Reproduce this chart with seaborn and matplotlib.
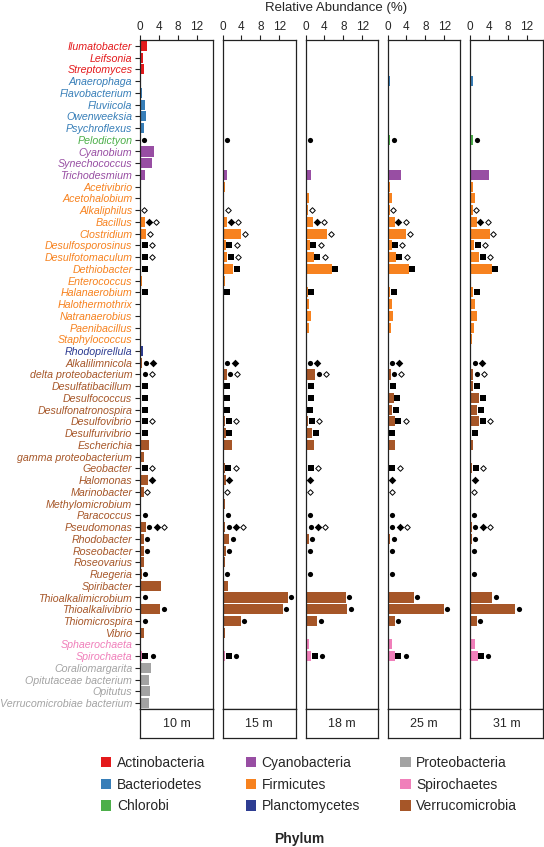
import numpy as np
import pandas as pd
import seaborn as sns
import matplotlib.pyplot as plt
from matplotlib.patches import Patch

sns.set_style('white')
plt.rcParams['font.family'] = ['Liberation Sans', 'DejaVu Sans']

# =====================================================================
# DATOS
# =====================================================================
genera = ['Ilumatobacter', 'Leifsonia', 'Streptomyces',
          'Anaerophaga', 'Flavobacterium', 'Fluviicola', 'Owenweeksia', 'Psychroflexus',
          'Pelodictyon',
          'Cyanobium', 'Synechococcus', 'Trichodesmium',
          'Acetivibrio', 'Acetohalobium', 'Alkaliphilus', 'Bacillus', 'Clostridium',
          'Desulfosporosinus', 'Desulfotomaculum', 'Dethiobacter', 'Enterococcus',
          'Halanaerobium', 'Halothermothrix', 'Natranaerobius', 'Paenibacillus',
          'Staphylococcus',
          'Rhodopirellula',
          'Alkalilimnicola', 'delta proteobacterium', 'Desulfatibacillum', 'Desulfococcus',
          'Desulfonatronospira', 'Desulfovibrio', 'Desulfurivibrio', 'Escherichia',
          'gamma proteobacterium', 'Geobacter', 'Halomonas', 'Marinobacter',
          'Methylomicrobium', 'Paracoccus', 'Pseudomonas', 'Rhodobacter', 'Roseobacter',
          'Roseovarius', 'Ruegeria', 'Spiribacter', 'Thioalkalimicrobium',
          'Thioalkalivibrio', 'Thiomicrospira', 'Vibrio',
          'Sphaerochaeta', 'Spirochaeta',
          'Coraliomargarita', 'Opitutaceae bacterium', 'Opitutus',
          'Verrucomicrobiae bacterium']

# grupo (como en la leyenda de la figura original)
phylum = (['Actinobacteria'] * 3 + ['Bacteriodetes'] * 5 + ['Chlorobi'] +
          ['Cyanobacteria'] * 3 + ['Firmicutes'] * 14 + ['Planctomycetes'] +
          ['Verrucomicrobia'] * 24 + ['Spirochaetes'] * 2 + ['Proteobacteria'] * 4)

legend_order = ['Actinobacteria', 'Bacteriodetes', 'Chlorobi',
                'Cyanobacteria', 'Firmicutes', 'Planctomycetes',
                'Proteobacteria', 'Spirochaetes', 'Verrucomicrobia']
phylum_colors = ['#e41a1c', '#377eb8', '#4daf4a',
                 '#984ea3', '#f7821f', '#2e3d92',
                 '#a3a3a3', '#f07fba', '#a65628']

depths = ['10 m', '15 m', '18 m', '25 m', '31 m']

d10 = [1.4, 0.55, 0.85, 0.05, 0.5, 1.1, 1.2, 0.8, 0.05, 3.0, 2.45, 1.05,
       0.05, 0.05, 0.05, 1.05, 1.35, 0.3, 0.3, 0.3, 0.5, 0.2, 0.05, 0.05, 0.1, 0.05,
       0.7,
       0.5, 0.3, 0.2, 0.2, 0.2, 0.3, 0.2, 1.9, 0.8, 0.2, 1.75, 0.75, 0.1, 0.2, 1.2,
       0.8, 0.75, 0.75, 0.4, 4.5, 0.3, 4.3, 0.3, 0.8,
       0.05, 0.4, 2.3, 1.95, 2.1, 1.9]
d15 = [0.2, 0.2, 0.2, 0.1, 0.1, 0.3, 0.2, 0.1, 0.1, 0.1, 0.2, 1.0,
       0.55, 0.4, 0.4, 1.05, 3.9, 0.7, 1.0, 2.25, 0.55, 0.3, 0.3, 0.4, 0.4, 0.2,
       0.2,
       0.3, 0.85, 0.3, 0.3, 0.3, 0.55, 0.65, 1.9, 0.1, 0.5, 0.7, 0.1, 0.55, 0.4, 0.55,
       1.4, 0.7, 0.5, 0.3, 1.25, 13.75, 12.7, 3.85, 0.6,
       0.1, 0.6, 0.2, 0.2, 0.2, 0.2]
d18 = [0.05, 0.05, 0.15, 0.3, 0.05, 0.05, 0.05, 0.05, 0.3, 0.05, 0.05, 1.25,
       0.35, 0.7, 0.55, 1.6, 4.55, 0.9, 1.75, 5.5, 0.35, 0.5, 0.65, 1.25, 0.8, 0.35,
       0.15,
       0.2, 2.0, 0.35, 0.4, 0.3, 0.55, 1.4, 1.75, 0.1, 0.4, 0.3, 0.1, 0.1, 0.1, 0.35,
       0.7, 0.3, 0.2, 0.1, 0.2, 8.5, 8.85, 2.45, 0.35,
       0.8, 1.25, 0.1, 0.1, 0.1, 0.1]
d25 = [0.05, 0.05, 0.2, 0.55, 0.05, 0.05, 0.05, 0.05, 0.55, 0.05, 0.05, 2.8,
       0.5, 1.0, 0.5, 1.55, 4.0, 0.85, 1.75, 4.5, 0.35, 0.55, 0.85, 1.25, 0.75, 0.35,
       0.1,
       0.2, 0.65, 0.35, 1.35, 1.05, 1.5, 0.3, 1.55, 0.1, 0.3, 0.2, 0.1, 0.2, 0.2, 0.3,
       0.6, 0.2, 0.2, 0.1, 0.1, 5.55, 11.85, 1.55, 0.35,
       1.05, 1.5, 0.05, 0.05, 0.05, 0.05]
d31 = [0.05, 0.05, 0.2, 0.55, 0.05, 0.05, 0.05, 0.05, 0.7, 0.05, 0.05, 4.0,
       0.55, 1.0, 0.55, 1.4, 4.2, 0.9, 1.9, 4.55, 0.2, 0.7, 1.0, 1.45, 0.9, 0.5,
       0.1,
       0.2, 0.65, 0.7, 1.9, 1.55, 1.9, 0.2, 0.65, 0.1, 0.5, 0.2, 0.1, 0.3, 0.1, 0.35,
       0.35, 0.1, 0.1, 0.1, 0.1, 4.7, 9.5, 1.4, 0.2,
       1.05, 1.6, 0.05, 0.05, 0.05, 0.05]

# simbolos por genero: s = cuadrado, o = circulo, D = rombo, x = rombo abierto
symbols = ['', '', '', '', '', '', '', '', 'o', '', '', '',
           '', '', 'x', 'Dx', 'x', 'sx', 'sx', 's', '', 's', '', '', '', '',
           '',
           'oD', 'ox', 's', 's', 's', 'sx', 's', '', '', 'sx', 'D', 'x', '', 'o', 'oDx',
           'o', 'o', '', 'o', '', 'o', 'o', 'o', '',
           '', 'so', '', '', '', '']

valores = [d10, d15, d18, d25, d31]

color_of = dict(zip(legend_order, phylum_colors))
genus_colors = {g: color_of[p] for g, p in zip(genera, phylum)}

# =====================================================================
# FIGURA
# =====================================================================
W, H = 544, 847
fig = plt.figure(figsize=(W / 100, H / 100), dpi=100)

lefts = [140, 222.5, 305.5, 387.5, 470]
ancho = 73
top_px, bot_px, box_px = 40, 709, 738
spine_c = '#222222'

for k, (prof, vals) in enumerate(zip(depths, valores)):
    ax = fig.add_axes([lefts[k] / W, 1 - bot_px / H, ancho / W, (bot_px - top_px) / H])
    df = pd.DataFrame({'genus': genera, 'value': vals})
    sns.barplot(data=df, x='value', y='genus', hue='genus', palette=genus_colors,
                order=genera, hue_order=genera, legend=False, saturation=1,
                width=0.86, linewidth=0, orient='h', ax=ax)

    # simbolos a la derecha de cada barra
    for i, (v, sym) in enumerate(zip(vals, symbols)):
        for j, m in enumerate(sym):
            xm = v + 0.75 + 1.55 * j
            if m == 'x':
                ax.scatter(xm, i, marker='D', s=8, facecolor='white',
                           edgecolor='black', linewidth=0.7, zorder=5)
            elif m == 'D':
                ax.scatter(xm, i, marker='D', s=15, color='black', linewidth=0, zorder=5)
            else:
                ax.scatter(xm, i, marker=m, s=14, color='black', linewidth=0, zorder=5)

    ax.set_xlim(0, 15.4)
    ax.set_ylim(len(genera) - 0.5, -0.5)
    ax.xaxis.tick_top()
    ax.set_xticks([0, 4, 8, 12])
    ax.tick_params(axis='x', length=3.3, width=0.8, direction='out', labelsize=8.5, pad=1.5,
                   color=spine_c)
    ax.set_xlabel('')
    ax.set_ylabel('')
    for s in ax.spines.values():
        s.set_color(spine_c)
        s.set_linewidth(0.9)

    if k == 0:
        ax.tick_params(axis='y', length=3.5, width=0.8, direction='out', labelsize=7.7,
                       pad=2, left=True, color=spine_c)
        for lab, g in zip(ax.get_yticklabels(), genera):
            lab.set_color(genus_colors[g])
            lab.set_fontstyle('italic')
    else:
        ax.set_yticks([])

    # caja con la profundidad
    bx = fig.add_axes([lefts[k] / W, 1 - box_px / H, ancho / W, (box_px - bot_px) / H])
    bx.set_xticks([])
    bx.set_yticks([])
    for s in bx.spines.values():
        s.set_color(spine_c)
        s.set_linewidth(0.9)
    bx.text(0.5, 0.5, prof, ha='center', va='center', fontsize=9, transform=bx.transAxes)

fig.text(0.618, 1 - 8 / H, 'Relative Abundance (%)', ha='center', va='center', fontsize=9.5)

handles = [Patch(facecolor=c, edgecolor='none') for c in phylum_colors]
fig.legend(handles, legend_order, ncol=3, loc='upper left',
           bbox_to_anchor=(101 / W, 1 - 756 / H), frameon=False, fontsize=10,
           handlelength=0.75, handleheight=0.75, handletextpad=0.4,
           columnspacing=2.9, labelspacing=0.55, borderpad=0, borderaxespad=0)

fig.text(299 / W, 1 - 839 / H, 'Phylum', ha='center', va='center', fontsize=10,
         fontweight='bold')

plt.savefig('out.png', dpi=100)
